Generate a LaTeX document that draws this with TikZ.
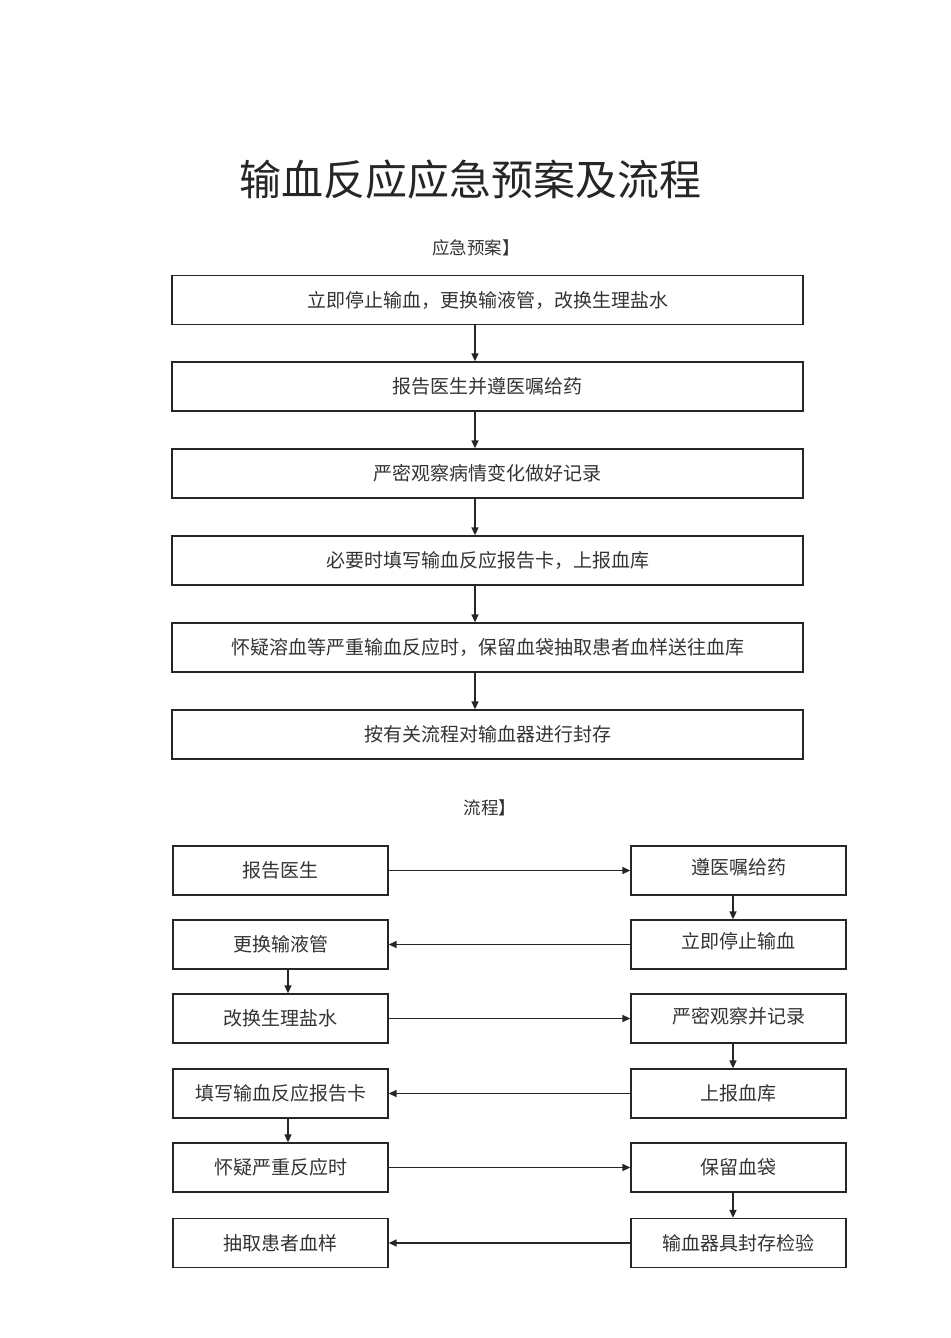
\documentclass[tikz,border=0pt]{standalone}
\usepackage{fontspec}
\setmainfont{Noto Sans CJK SC}
\usetikzlibrary{arrows.meta}
\begin{document}
\begin{tikzpicture}[x=1pt,y=-1pt,
  box/.style={draw=black!85, line width=1.3pt, minimum height=49pt, inner sep=0pt, text=black!80, font=\fontsize{19}{19}\selectfont},
  wide/.style={box, minimum width=631pt},
  narrow/.style={box, minimum width=215pt},
  arr/.style={-{Triangle[length=8pt,width=7pt]}, line width=1.5pt, draw=black!85}]
\useasboundingbox (0,0) rectangle (950,1338);
\node[text=black!85, font=\fontsize{42}{42}\selectfont] (title) at (470,180) {输血反应应急预案及流程};
\node[text=black!80, font=\fontsize{17.5}{17.5}\selectfont] (h1) at (476,248) {应急预案】};
\node[wide] (b1) at (487.5,300) {立即停止输血，更换输液管，改换生理盐水};
\node[wide] (b2) at (487.5,386.5) {报告医生并遵医嘱给药};
\node[wide] (b3) at (487.5,473.5) {严密观察病情变化做好记录};
\node[wide] (b4) at (487.5,560.5) {必要时填写输血反应报告卡，上报血库};
\node[wide] (b5) at (487.5,647.5) {怀疑溶血等严重输血反应时，保留血袋抽取患者血样送往血库};
\node[wide] (b6) at (487.5,734.5) {按有关流程对输血器进行封存};
\coordinate (ax) at (475,0);
\foreach \a/\b in {b1/b2,b2/b3,b3/b4,b4/b5,b5/b6}
  \draw[arr] (\a.south -| ax) -- (\b.north -| ax);
\node[text=black!80, font=\fontsize{17.5}{17.5}\selectfont] (h2) at (490,808) {流程】};
\node[narrow] (L1) at (280.5,870.5) {报告医生};
\node[narrow] (L2) at (280.5,944.5) {更换输液管};
\node[narrow] (L3) at (280.5,1018.5) {改换生理盐水};
\node[narrow] (L4) at (280.5,1093.5) {填写输血反应报告卡};
\node[narrow] (L5) at (280.5,1167.5) {怀疑严重反应时};
\node[narrow] (L6) at (280.5,1243) {抽取患者血样};
\node[narrow] (R1) at (738.5,870.5) {\raisebox{8pt}{遵医嘱给药}};
\node[narrow] (R2) at (738.5,944.5) {\raisebox{8pt}{立即停止输血}};
\node[narrow] (R3) at (738.5,1018.5) {\raisebox{7pt}{严密观察并记录}};
\node[narrow] (R4) at (738.5,1093.5) {上报血库};
\node[narrow] (R5) at (738.5,1167.5) {保留血袋};
\node[narrow] (R6) at (738.5,1243) {输血器具封存检验};
\draw[arr] (L1) -- (R1);
\draw[arr] (R2) -- (L2);
\draw[arr] (L3) -- (R3);
\draw[arr] (R4) -- (L4);
\draw[arr] (L5) -- (R5);
\draw[arr] (R6) -- (L6);
\coordinate (rx) at (733,0);
\coordinate (lx) at (288,0);
\draw[arr] (R1.south -| rx) -- (R2.north -| rx);
\draw[arr] (R3.south -| rx) -- (R4.north -| rx);
\draw[arr] (R5.south -| rx) -- (R6.north -| rx);
\draw[arr] (L2.south -| lx) -- (L3.north -| lx);
\draw[arr] (L4.south -| lx) -- (L5.north -| lx);
\end{tikzpicture}
\end{document}
